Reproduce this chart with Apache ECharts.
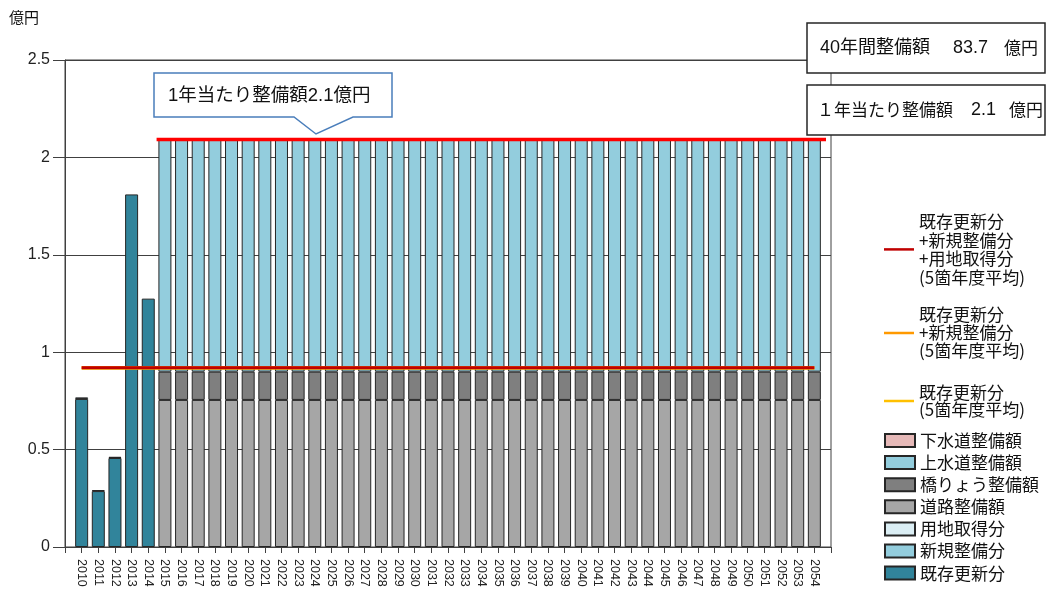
<!DOCTYPE html>
<html>
<head>
<meta charset="utf-8">
<script src="https://cdn.jsdelivr.net/npm/echarts@6/dist/echarts.min.js"></script>
<style>
  html, body { margin: 0; padding: 0; background: #fff; }
  #chart { width: 1046px; height: 592px; }
</style>
</head>
<body>
<div id="chart"></div>
<script>
// 年度
const pastYears = ['2010', '2011', '2012', '2013', '2014'];
const planYears = ['2015', '2016', '2017', '2018', '2019', '2020', '2021', '2022', '2023', '2024',
                   '2025', '2026', '2027', '2028', '2029', '2030', '2031', '2032', '2033', '2034',
                   '2035', '2036', '2037', '2038', '2039', '2040', '2041', '2042', '2043', '2044',
                   '2045', '2046', '2047', '2048', '2049', '2050', '2051', '2052', '2053', '2054'];

// 実績（億円）
const kizonKoushin  = [0.760, 0.287, 0.457, 1.810, 1.275];   // 既存更新分
const shinkiSeibi   = [0.008, 0.005, 0.006, 0, 0];           // 新規整備分
const youchiShutoku = [0, 0, 0, 0, 0];                       // 用地取得分

// 計画（億円）
const douroSeibi = [0.755, 0.755, 0.755, 0.755, 0.755, 0.755, 0.755, 0.755, 0.755, 0.755,
                    0.755, 0.755, 0.755, 0.755, 0.755, 0.755, 0.755, 0.755, 0.755, 0.755,
                    0.755, 0.755, 0.755, 0.755, 0.755, 0.755, 0.755, 0.755, 0.755, 0.755,
                    0.755, 0.755, 0.755, 0.755, 0.755, 0.755, 0.755, 0.755, 0.755, 0.755];
const kyouryouSeibi = [0.145, 0.145, 0.145, 0.145, 0.145, 0.145, 0.145, 0.145, 0.145, 0.145,
                       0.145, 0.145, 0.145, 0.145, 0.145, 0.145, 0.145, 0.145, 0.145, 0.145,
                       0.145, 0.145, 0.145, 0.145, 0.145, 0.145, 0.145, 0.145, 0.145, 0.145,
                       0.145, 0.145, 0.145, 0.145, 0.145, 0.145, 0.145, 0.145, 0.145, 0.145];
const jousuidouSeibi = [1.1925, 1.1925, 1.1925, 1.1925, 1.1925, 1.1925, 1.1925, 1.1925, 1.1925, 1.1925,
                        1.1925, 1.1925, 1.1925, 1.1925, 1.1925, 1.1925, 1.1925, 1.1925, 1.1925, 1.1925,
                        1.1925, 1.1925, 1.1925, 1.1925, 1.1925, 1.1925, 1.1925, 1.1925, 1.1925, 1.1925,
                        1.1925, 1.1925, 1.1925, 1.1925, 1.1925, 1.1925, 1.1925, 1.1925, 1.1925, 1.1925];
const gesuidouSeibi = [0, 0, 0, 0, 0, 0, 0, 0, 0, 0,
                       0, 0, 0, 0, 0, 0, 0, 0, 0, 0,
                       0, 0, 0, 0, 0, 0, 0, 0, 0, 0,
                       0, 0, 0, 0, 0, 0, 0, 0, 0, 0];

// 5箇年度平均（億円）
const avgKizon       = 0.917;
const avgKizonShinki = 0.922;
const avgAll         = 0.920;

// 1年当たり整備額・40年間整備額（億円）
const annualAmount = 2.0925;
const totalAmount  = 83.7;

// 縦軸目盛
const yTicks = [0, 0.5, 1, 1.5, 2, 2.5];

const allYears = pastYears.concat(planYears);
// 両端に空きの目盛を置く
const axisYears = ['2009'].concat(allYears, ['2055']);

const NAME_KIZON = '既存更新分', NAME_SHINKI = '新規整備分', NAME_YOUCHI = '用地取得分';
const NAME_DOURO = '道路整備額', NAME_KYOURYOU = '橋りょう整備額';
const NAME_JOUSUI = '上水道整備額', NAME_GESUI = '下水道整備額';
const NAME_AVG_ALL = '既存更新分\n+新規整備分\n+用地取得分\n(5箇年度平均)';
const NAME_AVG_KS  = '既存更新分\n+新規整備分\n(5箇年度平均)';
const NAME_AVG_K   = '既存更新分\n(5箇年度平均)';

const blank = n => new Array(n).fill('-');
const val = v => (v === 0 ? '-' : v);
const pastData = arr => ['-'].concat(arr.map(val), blank(planYears.length + 1));
const planData = arr => blank(pastYears.length + 1).concat(arr.map(val), ['-']);
const avgData = v => ['-'].concat(allYears.map(() => v), ['-']);

const JP = '"Noto Sans CJK JP"';
const NUM = '"Liberation Sans", "Noto Sans CJK JP"';
const border = '#262626';

function barSeries(name, data, color) {
  return {
    name, type: 'bar', stack: 'total', data,
    barWidth: 13,
    itemStyle: { color, borderColor: border, borderWidth: 1 },
    emphasis: { disabled: true },
    animation: false
  };
}
function avgSeries(name, value, color) {
  return {
    name, type: 'line', data: avgData(value),
    showSymbol: false, symbol: 'none',
    lineStyle: { color, width: 3 },
    itemStyle: { color },
    emphasis: { disabled: true },
    animation: false, z: 5
  };
}

const chart = echarts.init(document.getElementById('chart'), null, { renderer: 'canvas' });

const option = {
  animation: false,
  backgroundColor: '#fff',
  grid: { left: 65, right: 215, top: 60, bottom: 45, show: true, borderColor: '#404040', borderWidth: 1 },
  xAxis: {
    type: 'category',
    data: axisYears,
    boundaryGap: false,
    axisLine: { lineStyle: { color: '#404040', width: 1 } },
    axisTick: { show: true, interval: 0, length: 6, lineStyle: { color: '#404040' } },
    axisLabel: {
      interval: 0, rotate: -90, margin: 12,
      fontFamily: NUM, fontSize: 12.5, color: '#222',
      formatter: (v, i) => (i === 0 || i === axisYears.length - 1) ? '' : v
    },
    splitLine: { show: false }
  },
  yAxis: {
    type: 'value',
    min: yTicks[0], max: yTicks[yTicks.length - 1], interval: yTicks[1] - yTicks[0],
    axisLine: { show: true, lineStyle: { color: '#404040', width: 1 } },
    axisTick: { show: true, length: 12, lineStyle: { color: '#404040' } },
    axisLabel: { margin: 15, fontFamily: NUM, fontSize: 16, color: '#222' },
    splitLine: { show: true, lineStyle: { color: '#404040', width: 1 } }
  },
  legend: [
    {
      data: [NAME_AVG_ALL], left: 884, top: 212, padding: 0,
      icon: 'rect', itemWidth: 30, itemHeight: 2.5, selectedMode: false,
      textStyle: { fontFamily: JP, fontSize: 17, lineHeight: 18.7, color: '#111' }
    },
    {
      data: [NAME_AVG_KS], left: 884, top: 306, padding: 0,
      icon: 'rect', itemWidth: 30, itemHeight: 2.5, selectedMode: false,
      textStyle: { fontFamily: JP, fontSize: 17, lineHeight: 18, color: '#111' }
    },
    {
      data: [NAME_AVG_K], left: 884, top: 384, padding: 0,
      icon: 'rect', itemWidth: 30, itemHeight: 2.5, selectedMode: false,
      textStyle: { fontFamily: JP, fontSize: 17, lineHeight: 17, color: '#111' }
    },
    {
      data: [NAME_GESUI, NAME_JOUSUI, NAME_KYOURYOU, NAME_DOURO, NAME_YOUCHI, NAME_SHINKI, NAME_KIZON],
      orient: 'vertical', left: 884, top: 432, padding: 0, itemGap: 5.1,
      icon: 'rect', itemWidth: 30, itemHeight: 13, selectedMode: false,
      textStyle: { fontFamily: JP, fontSize: 17, lineHeight: 16, color: '#111' }
    }
  ],
  series: [
    barSeries(NAME_KIZON, pastData(kizonKoushin), '#31849b'),
    barSeries(NAME_SHINKI, pastData(shinkiSeibi), '#93cddd'),
    barSeries(NAME_YOUCHI, pastData(youchiShutoku), '#dbeef4'),
    barSeries(NAME_DOURO, planData(douroSeibi), '#a6a6a6'),
    barSeries(NAME_KYOURYOU, planData(kyouryouSeibi), '#7f7f7f'),
    barSeries(NAME_JOUSUI, planData(jousuidouSeibi), '#93cddd'),
    barSeries(NAME_GESUI, planData(gesuidouSeibi), '#e6b9b8'),
    avgSeries(NAME_AVG_K, avgKizon, '#ffc000'),
    avgSeries(NAME_AVG_KS, avgKizonShinki, '#ff9900'),
    avgSeries(NAME_AVG_ALL, avgAll, '#c00000')
  ]
};
chart.setOption(option);

// 1年当たり整備額の水平線と注記
const xFirst = chart.convertToPixel({ xAxisIndex: 0 }, planYears[0]);
const xSecond = chart.convertToPixel({ xAxisIndex: 0 }, planYears[1]);
const xLast = chart.convertToPixel({ xAxisIndex: 0 }, planYears[planYears.length - 1]);
const band = xSecond - xFirst;
const yAnnual = chart.convertToPixel({ yAxisIndex: 0 }, annualAmount);

function label(x, y, text, size, family) {
  return {
    type: 'text', x, y, z: 20,
    style: {
      text, fill: '#111', font: size + 'px ' + (family || JP),
      textAlign: 'left', textVerticalAlign: 'middle', align: 'left', verticalAlign: 'middle'
    }
  };
}

chart.setOption({
  graphic: [
    {
      type: 'line', z: 15,
      shape: { x1: xFirst - band / 2, y1: yAnnual, x2: xLast + band * 0.7, y2: yAnnual },
      style: { stroke: '#ff0000', lineWidth: 3.5 }
    },
    {
      type: 'polygon', z: 18,
      shape: { points: [[154, 73], [392, 73], [392, 117], [353, 117], [316, 134], [294, 117], [154, 117]] },
      style: { fill: '#fff', stroke: '#4a7ebb', lineWidth: 1.5 }
    },
    label(168, 96, '1年当たり整備額' + annualAmount.toFixed(1) + '億円', 18.5, NUM),
    {
      type: 'rect', z: 18,
      shape: { x: 807, y: 23, width: 238, height: 50 },
      style: { fill: '#fff', stroke: '#262626', lineWidth: 1.5 }
    },
    {
      type: 'rect', z: 18,
      shape: { x: 807, y: 85, width: 238, height: 50 },
      style: { fill: '#fff', stroke: '#262626', lineWidth: 1.5 }
    },
    label(820, 48, '40年間整備額', 18, NUM),
    label(953, 48, totalAmount.toFixed(1), 18, NUM),
    label(1004, 48, '億円', 17),
    label(817, 110, '１年当たり整備額', 17),
    label(971, 110, annualAmount.toFixed(1), 18, NUM),
    label(1009, 110, '億円', 17),
    label(9, 17, '億円', 15)
  ]
});
</script>
</body>
</html>
